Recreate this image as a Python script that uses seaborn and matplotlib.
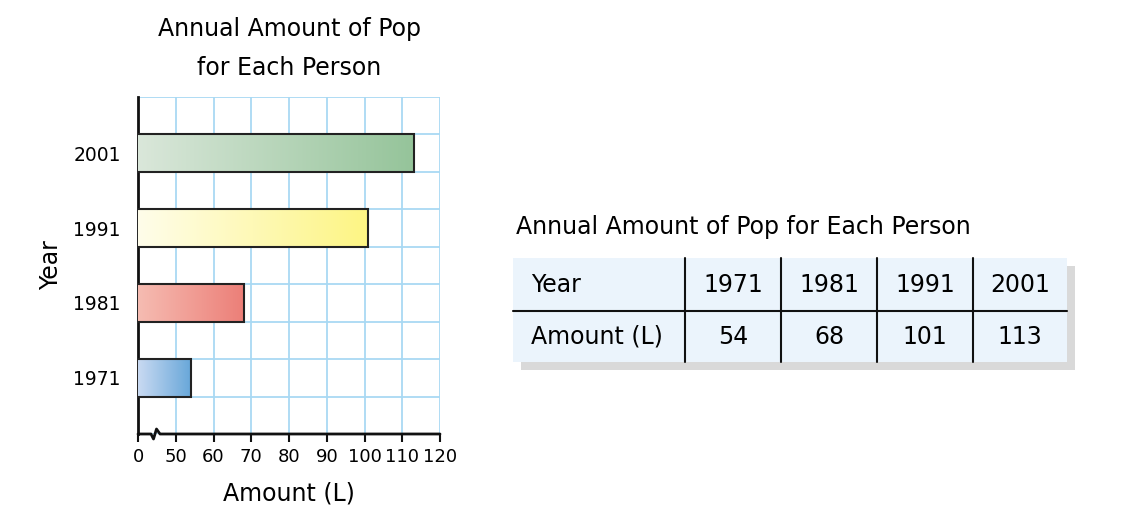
import numpy as np
import pandas as pd
import matplotlib
matplotlib.use("Agg")
import matplotlib.pyplot as plt
import seaborn as sns
from matplotlib.colors import LinearSegmentedColormap
from matplotlib.patches import Rectangle

# -----------------------------------
# Data
# -----------------------------------

years = ["1971", "1981", "1991", "2001"]
amounts = [54, 68, 101, 113]

tick_values = [40, 50, 60, 70, 80, 90, 100, 110, 120]
tick_labels = ["0", "50", "60", "70", "80", "90", "100", "110", "120"]

title = "Annual Amount of Pop\nfor Each Person"
table_title = "Annual Amount of Pop for Each Person"

# gradient colours per bar (light -> dark)
bar_gradients = [
    ("#c9daf2", "#68a7d9"),
    ("#f6bcb2", "#ec7f78"),
    ("#fffdea", "#fdf583"),
    ("#dae7da", "#95c49a"),
]

df = pd.DataFrame({"Year": years, "Amount": amounts})

# -----------------------------------
# Figure
# -----------------------------------

sns.set_style("white")
plt.rcParams["font.family"] = ["DejaVu Sans"]
plt.rcParams["text.color"] = "black"
plt.rcParams["axes.labelcolor"] = "black"
plt.rcParams["xtick.color"] = "black"
plt.rcParams["ytick.color"] = "black"

fig = plt.figure(figsize=(11.44, 5.18), dpi=100)
ax = fig.add_axes([138 / 1144, 1 - 434 / 518, 302 / 1144, 337 / 518])

order = years[::-1]
sns.barplot(
    data=df, x="Amount", y="Year", order=order, orient="h",
    width=0.5, color="white", edgecolor="#222222", linewidth=1.5, ax=ax
)

x_lo, x_hi = 40, 120
y_top, y_bot = -0.75, 3.75

for patch, year in zip(ax.patches, order):
    patch.set_facecolor("none")
    patch.set_zorder(4)
    c0, c1 = bar_gradients[years.index(year)]
    cmap = LinearSegmentedColormap.from_list("g", [c0, c1])
    bb = patch.get_bbox()
    x0 = max(bb.x0, x_lo)
    grad = np.linspace(0, 1, 256).reshape(1, -1)
    im = ax.imshow(grad, cmap=cmap, aspect="auto",
                   extent=(x0, bb.x1, bb.y1, bb.y0), zorder=3)
    im.set_clip_path(patch)

ax.set_xlim(x_lo, x_hi)
ax.set_ylim(y_bot, y_top)

# grid
grid_color = "#a9d9f3"
for gx in tick_values[1:]:
    ax.axvline(gx, color=grid_color, lw=1.3, zorder=1)
for gy in np.arange(y_top, y_bot + 0.01, 0.5):
    ax.axhline(gy, color=grid_color, lw=1.3, zorder=1)

for s in ["top", "right", "bottom"]:
    ax.spines[s].set_visible(False)
ax.spines["left"].set_color("#111111")
ax.spines["left"].set_linewidth(2)

# bottom axis with break mark
bx = np.array([138, 151, 153.5, 156.5, 160, 440])
by = np.array([0, 0, -5, 5, 0, 0])
ax.plot((bx - 138) / 302, by / 337, transform=ax.transAxes,
        color="#111111", lw=2, clip_on=False, zorder=6)

ax.set_xticks(tick_values)
ax.set_xticklabels(tick_labels, fontsize=13)
ax.tick_params(axis="x", bottom=True, length=6, width=1.5,
               color="#111111", pad=4)
ax.tick_params(axis="y", left=False, labelsize=13.5, pad=9)

ax.set_xlabel("Amount (L)", fontsize=17, labelpad=11)
ax.set_ylabel("Year", fontsize=17, labelpad=7)
ax.set_title(title, fontsize=17, pad=16, linespacing=1.8)

# -----------------------------------
# Table (pixel coordinates)
# -----------------------------------

tx = fig.add_axes([0, 0, 1, 1])
tx.set_xlim(0, 1144)
tx.set_ylim(518, 0)
tx.axis("off")
tx.patch.set_alpha(0)

left, right, top, bottom, mid = 513, 1067, 258, 362, 311
col_edges = [685, 781, 877, 973]

tx.add_patch(Rectangle((left + 8, top + 8), right - left, bottom - top,
                       facecolor="#d9d9d9", edgecolor="none", zorder=1))
tx.add_patch(Rectangle((left, top), right - left, bottom - top,
                       facecolor="#ebf4fc", edgecolor="none", zorder=2))
tx.plot([left, right], [mid, mid], color="#111111", lw=1.5, zorder=3)
for cx in col_edges:
    tx.plot([cx, cx], [top, bottom], color="#111111", lw=1.5, zorder=3)

tx.text(516, 227, table_title, fontsize=17, ha="left", va="center")

tx.text(531, (top + mid) / 2, "Year", fontsize=17, ha="left", va="center", zorder=4)
tx.text(531, (mid + bottom) / 2, "Amount (L)", fontsize=17, ha="left", va="center", zorder=4)

centers = [(a + b) / 2 for a, b in zip(col_edges, col_edges[1:] + [right])]
for cx, yr, amt in zip(centers, years, amounts):
    tx.text(cx, (top + mid) / 2, yr, fontsize=17, ha="center", va="center", zorder=4)
    tx.text(cx, (mid + bottom) / 2, str(amt), fontsize=17, ha="center", va="center", zorder=4)

fig.savefig("out.png", dpi=100)
